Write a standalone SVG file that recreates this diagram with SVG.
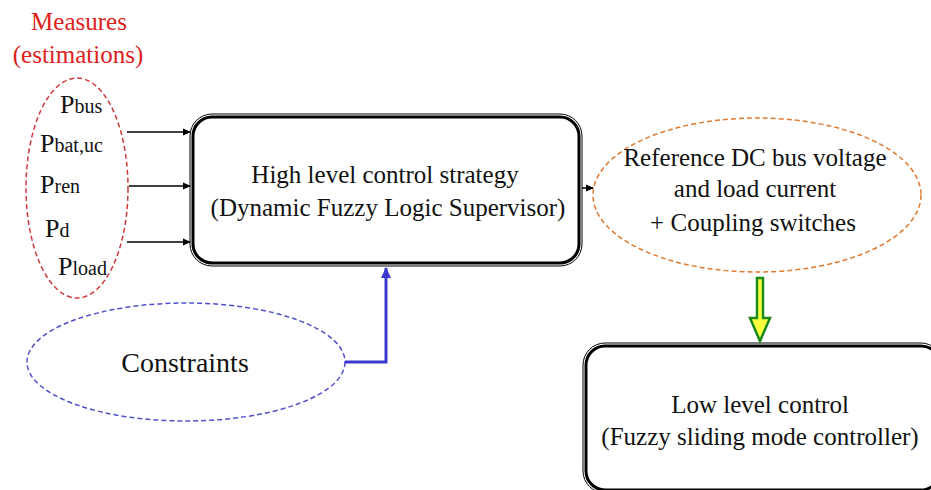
<svg xmlns="http://www.w3.org/2000/svg" width="931" height="490" viewBox="0 0 931 490">
<style>
text{font-family:'Liberation Serif','DejaVu Serif','Times New Roman',serif;fill:#111}
.t{font-size:25px;text-anchor:middle}
.p{font-size:26px}
.s{font-size:20px}
.box1{fill:#fff;stroke:#000;stroke-width:1}
.box2{fill:none;stroke:#000;stroke-width:3}
.ar{stroke:#000;stroke-width:1.5;fill:none;marker-end:url(#ah)}
</style>
<defs>
<marker id="ah" markerWidth="8" markerHeight="8" refX="7" refY="4" orient="auto" markerUnits="userSpaceOnUse"><path d="M0,0.5 L8,4 L0,7.5 z" fill="#000"/></marker>
<marker id="bh" markerWidth="12" markerHeight="12" refX="10" refY="6" orient="auto" markerUnits="userSpaceOnUse"><path d="M0,1 L11,6 L0,11 z" fill="#3a3acc"/></marker>
</defs>
<rect width="931" height="490" fill="#fff"/>
<g id="measures">
<text x="79" y="30" class="t" style="fill:#e02020">Measures</text>
<text x="78" y="63" class="t" style="fill:#e02020">(estimations)</text>
<ellipse cx="77" cy="188" rx="51" ry="110" fill="none" stroke="#d03a3a" stroke-width="1.5" stroke-dasharray="5,3"/>
<text x="60" y="113"><tspan class="p">P</tspan><tspan class="s">bus</tspan></text>
<text x="40" y="152"><tspan class="p">P</tspan><tspan class="s">bat,uc</tspan></text>
<text x="40" y="193"><tspan class="p">P</tspan><tspan class="s">ren</tspan></text>
<text x="45" y="237"><tspan class="p">P</tspan><tspan class="s">d</tspan></text>
<text x="58" y="275"><tspan class="p">P</tspan><tspan class="s">load</tspan></text>
</g>
<g id="high">
<rect x="190" y="114" width="392" height="152" rx="22" class="box1"/>
<rect x="193" y="117" width="386" height="146" rx="19" class="box2"/>
<text x="385" y="183" class="t">High level control strategy</text>
<text x="388" y="216" class="t">(Dynamic Fuzzy Logic Supervisor)</text>
</g>
<g id="reference">
<ellipse cx="757" cy="195" rx="164" ry="77" fill="none" stroke="#e07a30" stroke-width="1.5" stroke-dasharray="5,3"/>
<text x="755" y="166" class="t">Reference DC bus voltage</text>
<text x="755" y="197" class="t">and load current</text>
<text x="753" y="231" class="t">+ Coupling switches</text>
</g>
<g id="low">
<rect x="583" y="343" width="360" height="150" rx="22" class="box1"/>
<rect x="586" y="346" width="354" height="144" rx="19" class="box2"/>
<text x="760" y="413" class="t">Low level control</text>
<text x="760" y="445" class="t">(Fuzzy sliding mode controller)</text>
</g>
<g id="constraints">
<ellipse cx="186" cy="362" rx="159" ry="59" fill="none" stroke="#5050cc" stroke-width="1.5" stroke-dasharray="5,3"/>
<text x="185" y="372" class="t" style="font-size:28px">Constraints</text>
</g>
<g id="connectors">
<line x1="127" y1="132" x2="190" y2="132" class="ar"/>
<line x1="129" y1="186" x2="190" y2="186" class="ar"/>
<line x1="127" y1="242" x2="190" y2="242" class="ar"/>
<line x1="582" y1="188" x2="593" y2="188" class="ar"/>
<path d="M345,362 H386 V268" stroke="#3a3acc" stroke-width="3" fill="none" marker-end="url(#bh)"/>
<path d="M757,278 H763 V318 H770 L760,341 L750,318 H757 Z" fill="#ffff40" stroke="#1a8a1a" stroke-width="2.5" stroke-linejoin="miter"/>
</g>
</svg>
